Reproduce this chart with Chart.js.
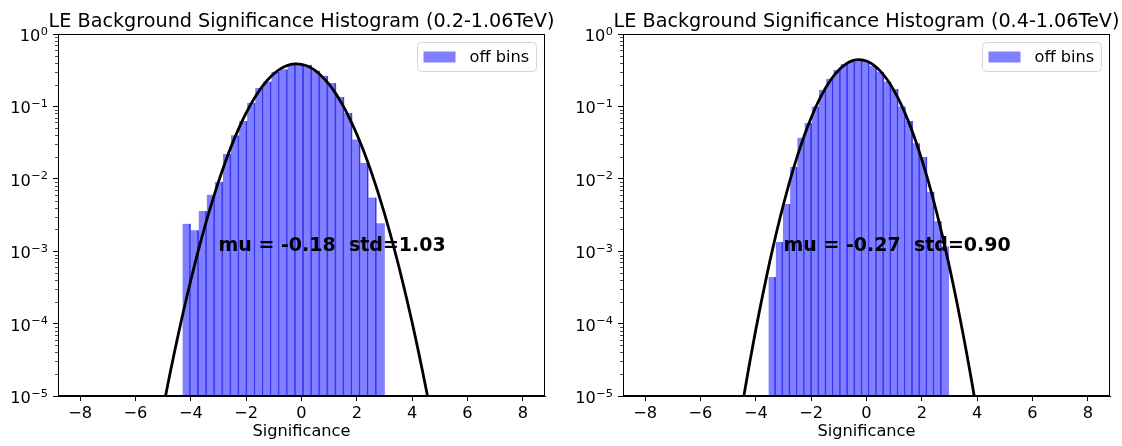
<!DOCTYPE html>
<html lang="en">
<head>
  <meta charset="UTF-8" />
  <title>LE Background Significance Histograms</title>
  <script src="https://cdn.jsdelivr.net/npm/chart.js"></script>
  <style>
    html, body { margin: 0; padding: 0; background: #fff; }
    .wrap { position: relative; width: 1122px; height: 446px; }
    canvas { position: absolute; top: 0; }
    #leftChart { left: 0; }
    #rightChart { left: 561px; }
  </style>
</head>
<body>
  <div class="wrap">
    <canvas id="leftChart" width="561" height="446"></canvas>
    <canvas id="rightChart" width="561" height="446"></canvas>
  </div>

  <script>
    // axis ticks
    const xTicks = [-8, -6, -4, -2, 0, 2, 4, 6, 8];
    const yMajorTicks = [1e-5, 1e-4, 1e-3, 1e-2, 1e-1, 1];
    const legendLabel = 'off bins';

    // left panel: 0.2-1.06 TeV
    const leftTitle = 'LE Background Significance Histogram (0.2-1.06TeV)';
    const leftStats = 'mu = -0.18  std=1.03';
    const leftBinCenters = [-4.154, -3.862, -3.570, -3.278, -2.986, -2.694, -2.402, -2.110, -1.818, -1.526,
      -1.234, -0.942, -0.650, -0.358, -0.066, 0.226, 0.518, 0.810, 1.102, 1.394,
      1.686, 1.978, 2.270, 2.562, 2.854];
    const leftBinValues = [0.0024, 0.00195, 0.0036, 0.0060, 0.0091, 0.022, 0.040, 0.063, 0.112, 0.18,
      0.22, 0.30, 0.325, 0.38, 0.38, 0.375, 0.31, 0.265, 0.21, 0.135,
      0.081, 0.035, 0.0166, 0.0055, 0.0024];
    const leftFitX = [-5.25, -5, -4.75, -4.5, -4.25, -4, -3.75, -3.5, -3.25, -3, -2.75, -2.5, -2.25, -2,
      -1.75, -1.5, -1.25, -1, -0.75, -0.5, -0.25, 0, 0.25, 0.5, 0.75, 1, 1.25, 1.5, 1.75, 2,
      2.25, 2.5, 2.75, 3, 3.25, 3.5, 3.75, 4, 4.25, 4.5, 4.75];
    const leftFitY = [2.12e-6, 6.81e-6, 2.06e-5, 5.87e-5, 1.58e-4, 3.99e-4, 9.54e-4, 2.15e-3, 4.56e-3, 9.13e-3,
      1.72e-2, 3.06e-2, 5.14e-2, 8.13e-2, 0.1212, 0.1704, 0.2258, 0.2821, 0.3323, 0.3690,
      0.3864, 0.3815, 0.3550, 0.3115, 0.2577, 0.2010, 0.1477, 0.1024, 6.69e-2, 4.12e-2,
      2.40e-2, 1.31e-2, 6.78e-3, 3.30e-3, 1.51e-3, 6.55e-4, 2.67e-4, 1.03e-4, 3.73e-5, 1.27e-5, 4.10e-6];

    // right panel: 0.4-1.06 TeV
    const rightTitle = 'LE Background Significance Histogram (0.4-1.06TeV)';
    const rightStats = 'mu = -0.27  std=0.90';
    const rightBinCenters = [-3.410, -3.150, -2.889, -2.629, -2.368, -2.108, -1.848, -1.587, -1.327, -1.066,
      -0.806, -0.546, -0.285, -0.025, 0.236, 0.496, 0.757, 1.017, 1.277, 1.538,
      1.798, 2.059, 2.319, 2.580, 2.840];
    const rightBinValues = [0.00044, 0.00134, 0.0045, 0.0145, 0.037, 0.059, 0.10, 0.17, 0.24, 0.32,
      0.385, 0.41, 0.44, 0.42, 0.36, 0.30, 0.22, 0.174, 0.10, 0.063,
      0.031, 0.020, 0.0066, 0.0026, 0.00115];
    const rightFitX = [-4.75, -4.5, -4.25, -4, -3.75, -3.5, -3.25, -3, -2.75, -2.5, -2.25, -2, -1.75, -1.5,
      -1.25, -1, -0.75, -0.5, -0.25, 0, 0.25, 0.5, 0.75, 1, 1.25, 1.5, 1.75, 2, 2.25, 2.5,
      2.75, 3, 3.25, 3.5, 3.75, 4, 4.25];
    const rightFitY = [1.85e-6, 7.07e-6, 2.51e-5, 8.26e-5, 2.51e-4, 7.07e-4, 1.84e-3, 4.45e-3, 9.95e-3, 2.06e-2,
      3.94e-2, 6.99e-2, 0.1147, 0.1742, 0.2450, 0.3190, 0.3845, 0.4290, 0.4432, 0.4237,
      0.3753, 0.3074, 0.2332, 0.1638, 0.1065, 6.41e-2, 3.57e-2, 1.84e-2, 8.80e-3, 3.89e-3,
      1.59e-3, 6.03e-4, 2.11e-4, 6.86e-5, 2.06e-5, 5.74e-6, 1.48e-6];

    const FONT = '"DejaVu Sans", sans-serif';
    const SMALL = 16.2;
    const BIG = 19.2;
    Chart.defaults.font.family = FONT;
    Chart.defaults.color = '#000';

    function isDecade(v) {
      const l = Math.log10(v);
      return Math.abs(l - Math.round(l)) < 1e-9;
    }

    // title, stats text, 10^n labels, minor ticks, frame and matplotlib-like legend
    const panelDecor = {
      id: 'panelDecor',
      afterDatasetsDraw(chart, args, opts) {
        const { ctx, scales: { x, y } } = chart;
        ctx.save();
        ctx.font = 'bold 19px ' + FONT;
        ctx.fillStyle = '#000';
        ctx.textAlign = 'left';
        ctx.textBaseline = 'alphabetic';
        ctx.fillText(opts.text, x.getPixelForValue(opts.x), y.getPixelForValue(opts.y));
        ctx.restore();
      },
      afterDraw(chart, args, opts) {
        const { ctx, chartArea: a, scales: { y } } = chart;
        ctx.save();
        ctx.fillStyle = '#000';

        // title centred over the axes
        ctx.font = BIG + 'px ' + FONT;
        ctx.textAlign = 'center';
        ctx.textBaseline = 'alphabetic';
        ctx.fillText(opts.title, (a.left + a.right) / 2, 27);

        // y tick labels as 10 with a raised exponent, short minor ticks
        ctx.textAlign = 'right';
        ctx.strokeStyle = '#000';
        ctx.lineWidth = 0.7;
        const rx = a.left - 10;
        y.ticks.forEach(t => {
          const py = y.getPixelForValue(t.value);
          if (!isDecade(t.value)) {
            const yy = Math.round(py) + 0.5;
            ctx.beginPath();
            ctx.moveTo(a.left - 3, yy);
            ctx.lineTo(a.left, yy);
            ctx.stroke();
            return;
          }
          const e = Math.round(Math.log10(t.value));
          const es = e < 0 ? '\u2212' + (-e) : String(e);
          ctx.font = '11.3px ' + FONT;
          const ew = ctx.measureText(es).width;
          ctx.fillText(es, rx, py + 0.5);
          ctx.font = SMALL + 'px ' + FONT;
          ctx.fillText('10', rx - ew - 0.5, py + 7);
        });

        ctx.lineWidth = 1;
        ctx.strokeRect(Math.round(a.left) + 0.5, Math.round(a.top) + 0.5,
          Math.round(a.right - a.left) - 1, Math.round(a.bottom - a.top) - 1);

        const w = 119, h = 29, r = 4;
        const bx = a.right - 8.5 - w, by = a.top + 8.5;
        ctx.beginPath();
        ctx.moveTo(bx + r, by);
        ctx.arcTo(bx + w, by, bx + w, by + h, r);
        ctx.arcTo(bx + w, by + h, bx, by + h, r);
        ctx.arcTo(bx, by + h, bx, by, r);
        ctx.arcTo(bx, by, bx + w, by, r);
        ctx.closePath();
        ctx.fillStyle = 'rgba(255,255,255,0.8)';
        ctx.fill();
        ctx.strokeStyle = '#d6d6d6';
        ctx.stroke();

        ctx.fillStyle = 'rgba(0,0,255,0.5)';
        ctx.fillRect(bx + 6, by + h / 2 - 5.5, 32, 11);
        ctx.fillStyle = '#000';
        ctx.font = SMALL + 'px ' + FONT;
        ctx.textAlign = 'left';
        ctx.textBaseline = 'middle';
        ctx.fillText(chart.data.datasets[1].label, bx + 52, by + h / 2 + 0.5);
        ctx.restore();
      }
    };

    function makeChart(id, title, stats, centers, values, fitX, fitY, padLeft, padRight) {
      const n = centers.length;
      return new Chart(document.getElementById(id), {
        type: 'bar',
        data: {
          datasets: [
            {
              type: 'line',
              label: 'fit',
              data: fitX.map((v, i) => ({ x: v, y: fitY[i] })),
              borderColor: '#000',
              borderWidth: 2.8,
              pointRadius: 0,
              tension: 0.2,
              fill: false,
              order: 0
            },
            {
              type: 'bar',
              label: legendLabel,
              data: centers.map((v, i) => ({ x: v, y: values[i] })),
              backgroundColor: 'rgba(0,0,255,0.5)',
              borderColor: 'rgba(40,40,235,0.85)',
              borderWidth: c => c.dataIndex < n - 1 ? { left: 0, right: 1, top: 0, bottom: 0 } : 0,
              barPercentage: 1,
              categoryPercentage: 1,
              order: 1
            }
          ]
        },
        options: {
          responsive: false,
          animation: false,
          layout: { padding: { left: padLeft, right: padRight, top: 34, bottom: 0 } },
          scales: {
            x: {
              type: 'linear',
              min: -8.8,
              max: 8.8,
              offset: false,
              afterBuildTicks: s => { s.ticks = xTicks.map(v => ({ value: v })); },
              afterFit: s => { s.height = 50; },
              ticks: {
                autoSkip: false,
                maxRotation: 0,
                padding: 3,
                font: { size: SMALL },
                color: '#000',
                callback: v => v < 0 ? '\u2212' + (-v) : String(v)
              },
              grid: { offset: false, drawOnChartArea: false, drawTicks: true, tickLength: 5, tickColor: '#000' },
              border: { color: '#000', width: 1 },
              title: {
                display: true,
                text: 'Significance',
                font: { size: SMALL },
                color: '#000',
                padding: { top: 0, bottom: 4 }
              }
            },
            y: {
              type: 'logarithmic',
              min: 1e-5,
              max: 1,
              afterBuildTicks: s => {
                const t = [];
                yMajorTicks.forEach((m, i) => {
                  t.push({ value: m, major: true });
                  if (i < yMajorTicks.length - 1) {
                    for (let k = 2; k <= 9; k++) t.push({ value: m * k, major: false });
                  }
                });
                s.ticks = t;
              },
              afterFit: s => { s.width = 58; },
              ticks: {
                autoSkip: false,
                padding: 3,
                font: { size: SMALL },
                color: '#000',
                callback: () => ''
              },
              grid: {
                offset: false,
                drawOnChartArea: false,
                drawTicks: true,
                tickLength: 5,
                tickColor: c => (c.tick && isDecade(c.tick.value)) ? '#000' : 'rgba(0,0,0,0)',
                tickWidth: 1
              },
              border: { color: '#000', width: 1 }
            }
          },
          plugins: {
            legend: { display: false },
            tooltip: { enabled: false },
            title: { display: false },
            panelDecor: { text: stats, x: -3, y: 1e-3, title: title }
          }
        },
        plugins: [panelDecor]
      });
    }

    makeChart('leftChart', leftTitle, leftStats, leftBinCenters, leftBinValues, leftFitX, leftFitY, 0, 16);
    makeChart('rightChart', rightTitle, rightStats, rightBinCenters, rightBinValues, rightFitX, rightFitY, 4, 12);
  </script>
</body>
</html>
